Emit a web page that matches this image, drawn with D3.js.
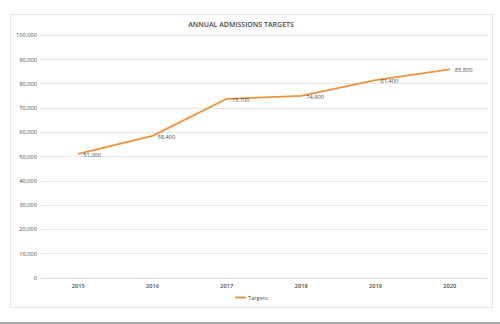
<!DOCTYPE html>
<html><head><meta charset="utf-8">
<script src="https://cdn.jsdelivr.net/npm/d3@7"></script>
<style>body{margin:0;background:#fff;}svg{display:block;}</style>
</head><body>
<script>
const title = "ANNUAL ADMISSIONS TARGETS";
const years = ["2015","2016","2017","2018","2019","2020"];
const targets = [51000, 58400, 73700, 74900, 81400, 85800];
const yTicks = [0,10000,20000,30000,40000,50000,60000,70000,80000,90000,100000];
const seriesName = "Targets";

const W = 500, H = 324;
const svg = d3.select("body").append("svg").attr("width", W).attr("height", H);
const font = "'Open Sans', 'Liberation Sans', sans-serif";
const txt = "#4a4a4a";

// frame
svg.append("rect").attr("x",10.5).attr("y",14.5).attr("width",482).attr("height",293)
  .attr("fill","#fff").attr("stroke","#e6e6e6").attr("stroke-width",1);
// bottom page line
svg.append("rect").attr("x",0).attr("y",322).attr("width",W).attr("height",2).attr("fill","#a6a6a6");

const x = d3.scaleBand().domain(years).range([41, 487]);
const y = d3.scaleLinear().domain([0, 100000]).range([277.5, 35]);

// gridlines
svg.append("g").selectAll("line").data(yTicks).join("line")
  .attr("x1",41).attr("x2",487)
  .attr("y1",d=>Math.round(y(d))+0.5).attr("y2",d=>Math.round(y(d))+0.5)
  .attr("stroke",d=>d===0?"#d9d9d9":"#e6e6e6").attr("stroke-width",1);

// y axis labels
const fmt = d3.format(",");
const yAxis = d3.axisLeft(y).tickValues(yTicks).tickFormat(fmt).tickSize(0).tickPadding(0);
const gy = svg.append("g").attr("transform","translate(37,0)").call(yAxis);
gy.select(".domain").remove();
gy.selectAll("text").attr("fill",txt).style("font-family",font).style("font-size","5.7px");

// x axis labels
const xAxis = d3.axisBottom(x).tickSize(0).tickPadding(0);
const gx = svg.append("g").attr("transform","translate(0,284)").call(xAxis);
gx.select(".domain").remove();
gx.selectAll("text").attr("fill",txt).style("font-family",font).style("font-size","5.7px").style("font-weight","600");

// title
svg.append("text").attr("x",241).attr("y",26.5).attr("text-anchor","middle")
  .attr("fill",txt).style("font-family",font).style("font-size","7px").style("font-weight","600")
  .text(title);

// line
const pts = years.map((yr,i)=>({yr, v: targets[i]}));
const line = d3.line().x(d=>x(d.yr)+x.bandwidth()/2).y(d=>y(d.v));
svg.append("path").datum(pts).attr("d",line).attr("fill","none")
  .attr("stroke","#f0913a").attr("stroke-width",1.8).attr("stroke-linejoin","round");

// data labels
svg.append("g").selectAll("text").data(pts).join("text")
  .attr("x",d=>x(d.yr)+x.bandwidth()/2+5).attr("y",d=>y(d.v)+2.8)
  .attr("fill",txt).style("font-family",font).style("font-size","5.7px")
  .text(d=>fmt(d.v));

// legend
svg.append("line").attr("x1",235).attr("x2",246).attr("y1",297.5).attr("y2",297.5)
  .attr("stroke","#f0913a").attr("stroke-width",1.8);
svg.append("text").attr("x",248).attr("y",299.5).attr("fill",txt)
  .style("font-family",font).style("font-size","5.7px").text(seriesName);
</script>
</body></html>
